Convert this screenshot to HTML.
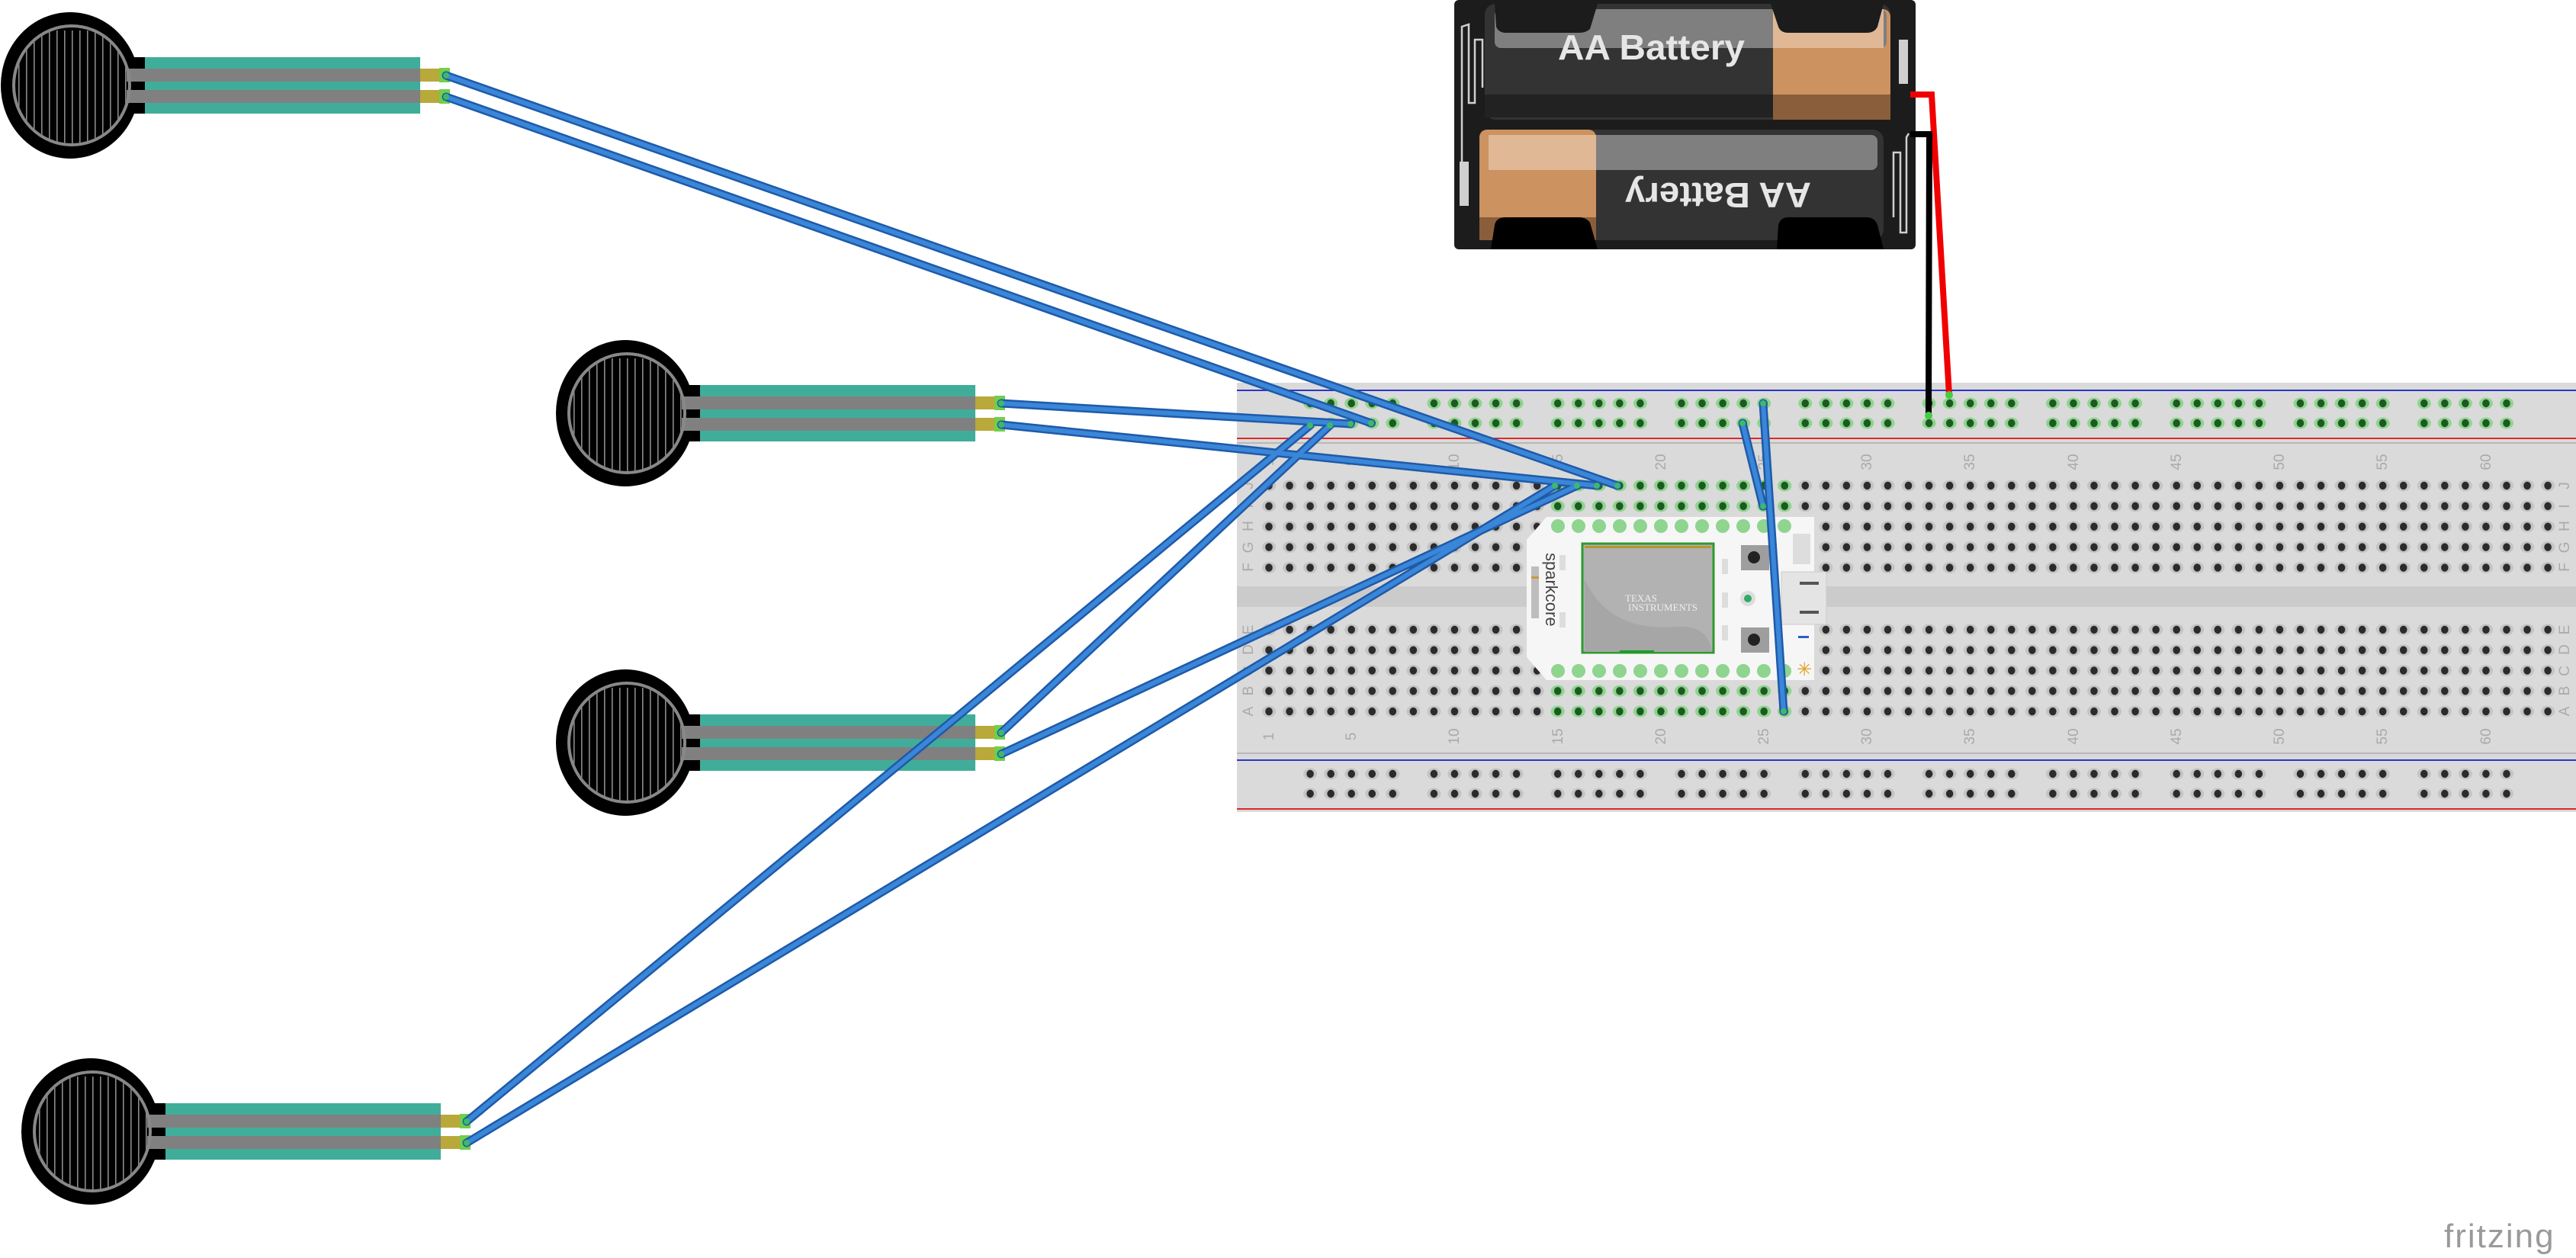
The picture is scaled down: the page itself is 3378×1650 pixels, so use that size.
<!DOCTYPE html>
<html><head><meta charset="utf-8"><style>html,body{margin:0;padding:0;background:#fff}svg{display:block}</style></head>
<body>
<svg width="3378" height="1650" viewBox="0 0 3378 1650" xmlns="http://www.w3.org/2000/svg" font-family="Liberation Sans, DejaVu Sans, sans-serif">
<defs>
<pattern id="ph" patternUnits="userSpaceOnUse" x="1650.475" y="623.5" width="27.05" height="26.9">
<ellipse cx="13.525" cy="13.45" rx="9" ry="7.5" fill="#c4c4c4"/><ellipse cx="13.525" cy="13.45" rx="4.8" ry="5.2" fill="#2b2b2b"/></pattern>
<pattern id="pg" patternUnits="userSpaceOnUse" x="1650.475" y="623.5" width="27.05" height="26.9">
<ellipse cx="13.525" cy="13.45" rx="9" ry="7.5" fill="#8fd48f"/><ellipse cx="13.525" cy="13.45" rx="4.8" ry="5.2" fill="#1d5a22"/></pattern>
<pattern id="phb" patternUnits="userSpaceOnUse" x="1650.475" y="812.5" width="27.05" height="26.8">
<ellipse cx="13.525" cy="13.4" rx="9" ry="7.5" fill="#c4c4c4"/><ellipse cx="13.525" cy="13.4" rx="4.8" ry="5.2" fill="#2b2b2b"/></pattern>
<pattern id="pgb" patternUnits="userSpaceOnUse" x="1650.475" y="812.5" width="27.05" height="26.8">
<ellipse cx="13.525" cy="13.4" rx="9" ry="7.5" fill="#8fd48f"/><ellipse cx="13.525" cy="13.4" rx="4.8" ry="5.2" fill="#1d5a22"/></pattern>
<pattern id="prg" patternUnits="userSpaceOnUse" x="1704.575" y="516" width="162.3" height="26">
<g fill="#8fd48f"><ellipse cx="13.525" cy="13" rx="9" ry="7.5"/><ellipse cx="40.575" cy="13" rx="9" ry="7.5"/><ellipse cx="67.625" cy="13" rx="9" ry="7.5"/><ellipse cx="94.675" cy="13" rx="9" ry="7.5"/><ellipse cx="121.725" cy="13" rx="9" ry="7.5"/></g>
<g fill="#1d5a22"><ellipse cx="13.525" cy="13" rx="4.8" ry="5.2"/><ellipse cx="40.575" cy="13" rx="4.8" ry="5.2"/><ellipse cx="67.625" cy="13" rx="4.8" ry="5.2"/><ellipse cx="94.675" cy="13" rx="4.8" ry="5.2"/><ellipse cx="121.725" cy="13" rx="4.8" ry="5.2"/></g></pattern>
<pattern id="prb" patternUnits="userSpaceOnUse" x="1704.575" y="1002" width="162.3" height="26">
<g fill="#c4c4c4"><ellipse cx="13.525" cy="13" rx="9" ry="7.5"/><ellipse cx="40.575" cy="13" rx="9" ry="7.5"/><ellipse cx="67.625" cy="13" rx="9" ry="7.5"/><ellipse cx="94.675" cy="13" rx="9" ry="7.5"/><ellipse cx="121.725" cy="13" rx="9" ry="7.5"/></g>
<g fill="#2b2b2b"><ellipse cx="13.525" cy="13" rx="4.8" ry="5.2"/><ellipse cx="40.575" cy="13" rx="4.8" ry="5.2"/><ellipse cx="67.625" cy="13" rx="4.8" ry="5.2"/><ellipse cx="94.675" cy="13" rx="4.8" ry="5.2"/><ellipse cx="121.725" cy="13" rx="4.8" ry="5.2"/></g></pattern>
<clipPath id="fc"><ellipse cx="94" cy="112" rx="74" ry="76"/></clipPath>
<pattern id="fl" patternUnits="userSpaceOnUse" x="0" y="0" width="10" height="10"><rect x="4" y="0" width="1.6" height="10" fill="#8a8a8a"/></pattern>
<g id="fsr">
<ellipse cx="92" cy="112" rx="91" ry="96" fill="#000"/>
<rect x="150" y="75" width="42" height="74" fill="#000"/>
<rect x="190" y="75" width="361" height="74" fill="#40ad9a"/>
<rect x="166" y="90" width="385" height="17" fill="#808080"/>
<rect x="166" y="118" width="385" height="17" fill="#808080"/>
<rect x="18" y="40" width="150" height="150" fill="url(#fl)" clip-path="url(#fc)"/>
<ellipse cx="94" cy="112" rx="76" ry="78" fill="none" stroke="#888" stroke-width="4"/>
<rect x="551" y="90" width="25" height="17" fill="#b8a93a"/>
<rect x="551" y="118" width="25" height="17" fill="#b8a93a"/>
<rect x="576" y="89" width="14" height="19" fill="#6fd04a"/>
<rect x="576" y="117" width="14" height="19" fill="#6fd04a"/>
</g>
</defs>

<!-- FSRs -->
<use href="#fsr" x="0" y="0"/>
<use href="#fsr" x="728" y="430"/>
<use href="#fsr" x="728" y="862"/>
<use href="#fsr" x="27" y="1372"/>

<!-- Breadboard -->
<rect x="1622" y="502" width="1756" height="562" fill="#dadada"/>
<rect x="1622" y="769" width="1756" height="27" fill="#cccbcb"/>
<line x1="1622" y1="512" x2="3378" y2="512" stroke="#2a36c8" stroke-width="2"/>
<line x1="1622" y1="575" x2="3378" y2="575" stroke="#e02828" stroke-width="2"/>
<line x1="1622" y1="581" x2="3378" y2="581" stroke="#b8b8b8" stroke-width="2"/>
<line x1="1622" y1="988" x2="3378" y2="988" stroke="#b8b8b8" stroke-width="2"/>
<line x1="1622" y1="997" x2="3378" y2="997" stroke="#2a36c8" stroke-width="2"/>
<line x1="1622" y1="1061" x2="3378" y2="1061" stroke="#e02828" stroke-width="2"/>
<line x1="1622" y1="1064" x2="3378" y2="1064" stroke="#c8c8c8" stroke-width="1"/>
<!-- rails -->
<rect x="1704" y="516" width="1600" height="52" fill="url(#prg)"/>
<rect x="1704" y="1002" width="1600" height="52" fill="url(#prb)"/>
<!-- main holes -->
<rect x="1650" y="623.5" width="1705" height="134.5" fill="url(#ph)"/>
<rect x="1650" y="812.5" width="1705" height="134" fill="url(#phb)"/>
<rect x="2029.175" y="623.5" width="324.6" height="53.8" fill="url(#pg)"/>
<rect x="2029.175" y="893.3" width="324.6" height="53.6" fill="url(#pgb)"/>

<!-- labels -->
<g fill="#aaaaaa" font-size="19">
<g text-anchor="middle">
<text transform="translate(1670,606) rotate(-90)">1</text>
<text transform="translate(1778,606) rotate(-90)">5</text>
<text transform="translate(1913,606) rotate(-90)">10</text>
<text transform="translate(2049,606) rotate(-90)">15</text>
<text transform="translate(2184,606) rotate(-90)">20</text>
<text transform="translate(2319,606) rotate(-90)">25</text>
<text transform="translate(2454,606) rotate(-90)">30</text>
<text transform="translate(2589,606) rotate(-90)">35</text>
<text transform="translate(2725,606) rotate(-90)">40</text>
<text transform="translate(2860,606) rotate(-90)">45</text>
<text transform="translate(2995,606) rotate(-90)">50</text>
<text transform="translate(3130,606) rotate(-90)">55</text>
<text transform="translate(3266,606) rotate(-90)">60</text>
<text transform="translate(1670,966) rotate(-90)">1</text>
<text transform="translate(1778,966) rotate(-90)">5</text>
<text transform="translate(1913,966) rotate(-90)">10</text>
<text transform="translate(2049,966) rotate(-90)">15</text>
<text transform="translate(2184,966) rotate(-90)">20</text>
<text transform="translate(2319,966) rotate(-90)">25</text>
<text transform="translate(2454,966) rotate(-90)">30</text>
<text transform="translate(2589,966) rotate(-90)">35</text>
<text transform="translate(2725,966) rotate(-90)">40</text>
<text transform="translate(2860,966) rotate(-90)">45</text>
<text transform="translate(2995,966) rotate(-90)">50</text>
<text transform="translate(3130,966) rotate(-90)">55</text>
<text transform="translate(3266,966) rotate(-90)">60</text>
<text transform="translate(1643,637) rotate(-90)">J</text>
<text transform="translate(1643,664) rotate(-90)">I</text>
<text transform="translate(1643,690) rotate(-90)">H</text>
<text transform="translate(1643,718) rotate(-90)">G</text>
<text transform="translate(1643,744) rotate(-90)">F</text>
<text transform="translate(1643,826) rotate(-90)">E</text>
<text transform="translate(1643,852) rotate(-90)">D</text>
<text transform="translate(1643,880) rotate(-90)">C</text>
<text transform="translate(1643,906) rotate(-90)">B</text>
<text transform="translate(1643,933) rotate(-90)">A</text>
<text transform="translate(3369,637) rotate(-90)">J</text>
<text transform="translate(3369,664) rotate(-90)">I</text>
<text transform="translate(3369,690) rotate(-90)">H</text>
<text transform="translate(3369,718) rotate(-90)">G</text>
<text transform="translate(3369,744) rotate(-90)">F</text>
<text transform="translate(3369,826) rotate(-90)">E</text>
<text transform="translate(3369,852) rotate(-90)">D</text>
<text transform="translate(3369,880) rotate(-90)">C</text>
<text transform="translate(3369,906) rotate(-90)">B</text>
<text transform="translate(3369,933) rotate(-90)">A</text>
</g></g>

<!-- Sparkcore -->
<polygon points="2028,678 2379,678 2379,892 2028,892 2002,862 2002,708" fill="#f6f6f6"/>
<g fill="#8fd48f">
<circle cx="2043" cy="690" r="9"/><circle cx="2070" cy="690" r="9"/><circle cx="2097" cy="690" r="9"/><circle cx="2124" cy="690" r="9"/><circle cx="2151" cy="690" r="9"/><circle cx="2178" cy="690" r="9"/><circle cx="2205" cy="690" r="9"/><circle cx="2232" cy="690" r="9"/><circle cx="2259" cy="690" r="9"/><circle cx="2286" cy="690" r="9"/><circle cx="2313" cy="690" r="9"/><circle cx="2340" cy="690" r="9"/>
<circle cx="2043" cy="880" r="9"/><circle cx="2070" cy="880" r="9"/><circle cx="2097" cy="880" r="9"/><circle cx="2124" cy="880" r="9"/><circle cx="2151" cy="880" r="9"/><circle cx="2178" cy="880" r="9"/><circle cx="2205" cy="880" r="9"/><circle cx="2232" cy="880" r="9"/><circle cx="2259" cy="880" r="9"/><circle cx="2286" cy="880" r="9"/><circle cx="2313" cy="880" r="9"/><circle cx="2340" cy="880" r="9"/>
</g>
<rect x="2075" y="713" width="172" height="143" fill="#b2b2b2" stroke="#2f9a2f" stroke-width="3"/>
<path d="M2078 760 Q2110 830 2200 822 Q2240 820 2245 855 L2078 855 Z" fill="#a6a6a6"/>
<rect x="2078" y="716" width="166" height="3" fill="#b8962f"/>
<rect x="2124" y="853" width="45" height="3" fill="#1f9a2a"/>
<text x="2131" y="789" font-family="Liberation Serif, serif" font-size="13" fill="#eee">TEXAS</text>
<text x="2135" y="801" font-family="Liberation Serif, serif" font-size="13" fill="#eee">INSTRUMENTS</text>
<text transform="translate(2027,725) rotate(90)" font-size="22" fill="#444">sparkcore</text>
<rect x="2008" y="743" width="10" height="68" fill="#bdbdbd"/><rect x="2008" y="756" width="10" height="3" fill="#c89a40"/>
<rect x="2045" y="728" width="8" height="20" fill="#ddd"/><rect x="2045" y="803" width="8" height="20" fill="#ddd"/>
<rect x="2258" y="733" width="8" height="20" fill="#ddd"/><rect x="2258" y="777" width="8" height="20" fill="#ddd"/><rect x="2258" y="820" width="8" height="20" fill="#ddd"/>
<rect x="2283" y="715" width="37" height="33" fill="#9e9e9e"/><circle cx="2300" cy="731" r="8" fill="#222"/>
<rect x="2283" y="823" width="37" height="33" fill="#9e9e9e"/><circle cx="2300" cy="839" r="8" fill="#222"/>
<circle cx="2292" cy="785" r="10" fill="#ddd"/><circle cx="2292" cy="785" r="5" fill="#3a6"/>
<rect x="2351" y="700" width="23" height="40" fill="#ddd"/>
<rect x="2336" y="750" width="59" height="69" fill="#e4e4e4" stroke="#ccc"/>
<rect x="2360" y="763" width="25" height="4" fill="#555"/><rect x="2360" y="801" width="25" height="4" fill="#555"/>
<rect x="2358" y="834" width="14" height="3" fill="#2b5fc0"/>
<text x="2356" y="886" font-size="24" fill="#e0a020">✳</text>

<!-- Battery -->
<rect x="1907" y="0" width="605" height="327" rx="6" fill="#1c1c1c"/>
<rect x="1947" y="5" width="532" height="152" rx="14" fill="#333"/>
<rect x="2325" y="12" width="154" height="145" rx="10" fill="#cc9260"/>
<rect x="2325" y="124" width="154" height="33" fill="#8a5e3b"/>
<rect x="1947" y="124" width="378" height="30" fill="#222"/>
<rect x="1960" y="12" width="514" height="51" rx="8" fill="#7f7f7f"/>
<rect x="2325" y="12" width="145" height="51" fill="#e0b896"/>
<path d="M1960 5 L2095 5 L2085 38 Q2080 43 2070 43 L1975 43 Q1965 43 1962 35 Z" fill="#1c1c1c"/>
<path d="M2322 5 L2470 5 L2462 35 Q2458 43 2448 43 L2345 43 Q2335 43 2332 35 Z" fill="#1c1c1c"/>
<rect x="1940" y="170" width="530" height="145" rx="14" fill="#333"/>
<rect x="1940" y="170" width="153" height="145" rx="10" fill="#cc9260"/>
<rect x="1952" y="177" width="510" height="46" rx="8" fill="#7f7f7f"/>
<rect x="1952" y="177" width="141" height="46" fill="#e0b896"/>
<rect x="1940" y="285" width="153" height="30" fill="#8a5e3b"/>
<path d="M1955 327 L2095 327 L2085 292 Q2080 285 2070 285 L1975 285 Q1962 285 1960 295 Z" fill="#000"/>
<path d="M2330 327 L2470 327 L2462 295 Q2458 285 2448 285 L2345 285 Q2335 285 2332 295 Z" fill="#000"/>
<g fill="none" stroke="#cfcfcf" stroke-width="2.5">
<polyline points="1917,270 1917,35 1926,32 1926,135 1934,135 1934,52 1944,52 1944,115"/>
<polyline points="2503,175 2500,180 2500,305 2492,305 2492,200 2483,200 2483,285"/>
</g>
<rect x="1914" y="212" width="12" height="58" fill="#cfcfcf"/>
<rect x="2490" y="52" width="12" height="58" fill="#cfcfcf"/>
<text x="2043" y="78" font-size="46" font-weight="bold" fill="#e6e6e6" textLength="245" lengthAdjust="spacingAndGlyphs">AA Battery</text>
<text transform="translate(2375,240) rotate(180)" font-size="46" font-weight="bold" fill="#e6e6e6" textLength="244" lengthAdjust="spacingAndGlyphs">AA Battery</text>

<!-- power wires -->
<polyline points="2505,124 2533,124 2556,518" fill="none" stroke="#f00000" stroke-width="8"/>
<polyline points="2505,176 2530,176 2529,545" fill="none" stroke="#000" stroke-width="8"/>
<circle cx="2556" cy="518" r="5" fill="#4c4"/><circle cx="2529" cy="545" r="5" fill="#4c4"/>

<!-- blue wires -->
<g fill="none" stroke-linecap="round">
<g stroke="#1f5aa8" stroke-width="11">
<line x1="585" y1="99" x2="2121" y2="637"/>
<line x1="585" y1="127" x2="1798" y2="555"/>
<line x1="1313" y1="529" x2="1771" y2="556"/>
<line x1="1313" y1="557" x2="2094" y2="637"/>
<line x1="1313" y1="961" x2="1744" y2="558"/>
<line x1="1313" y1="989" x2="2068" y2="637"/>
<line x1="612" y1="1471" x2="1718" y2="558"/>
<line x1="612" y1="1499" x2="2039" y2="637"/>
<line x1="2285" y1="555" x2="2312" y2="664"/>
<line x1="2312" y1="529" x2="2339" y2="933"/>
</g>
<g stroke="#3a86d8" stroke-width="6">
<line x1="585" y1="99" x2="2121" y2="637"/>
<line x1="585" y1="127" x2="1798" y2="555"/>
<line x1="1313" y1="529" x2="1771" y2="556"/>
<line x1="1313" y1="557" x2="2094" y2="637"/>
<line x1="1313" y1="961" x2="1744" y2="558"/>
<line x1="1313" y1="989" x2="2068" y2="637"/>
<line x1="612" y1="1471" x2="1718" y2="558"/>
<line x1="612" y1="1499" x2="2039" y2="637"/>
<line x1="2285" y1="555" x2="2312" y2="664"/>
<line x1="2312" y1="529" x2="2339" y2="933"/>
</g>
</g>
<g fill="#3fb86a">
<circle cx="585" cy="99" r="4"/><circle cx="585" cy="127" r="4"/><circle cx="2121" cy="637" r="4"/><circle cx="1798" cy="555" r="4"/>
<circle cx="1313" cy="529" r="4"/><circle cx="1313" cy="557" r="4"/><circle cx="1771" cy="556" r="4"/><circle cx="2094" cy="637" r="4"/>
<circle cx="1313" cy="961" r="4"/><circle cx="1313" cy="989" r="4"/><circle cx="1744" cy="558" r="4"/><circle cx="2068" cy="637" r="4"/>
<circle cx="612" cy="1471" r="4"/><circle cx="612" cy="1499" r="4"/><circle cx="1718" cy="558" r="4"/><circle cx="2039" cy="637" r="4"/>
<circle cx="2285" cy="555" r="4"/><circle cx="2312" cy="664" r="4"/><circle cx="2312" cy="529" r="4"/><circle cx="2339" cy="933" r="4"/>
</g>

<text x="3205" y="1636" font-size="44" fill="#9a9a9a" letter-spacing="2">fritzing</text>
</svg>
</body></html>
